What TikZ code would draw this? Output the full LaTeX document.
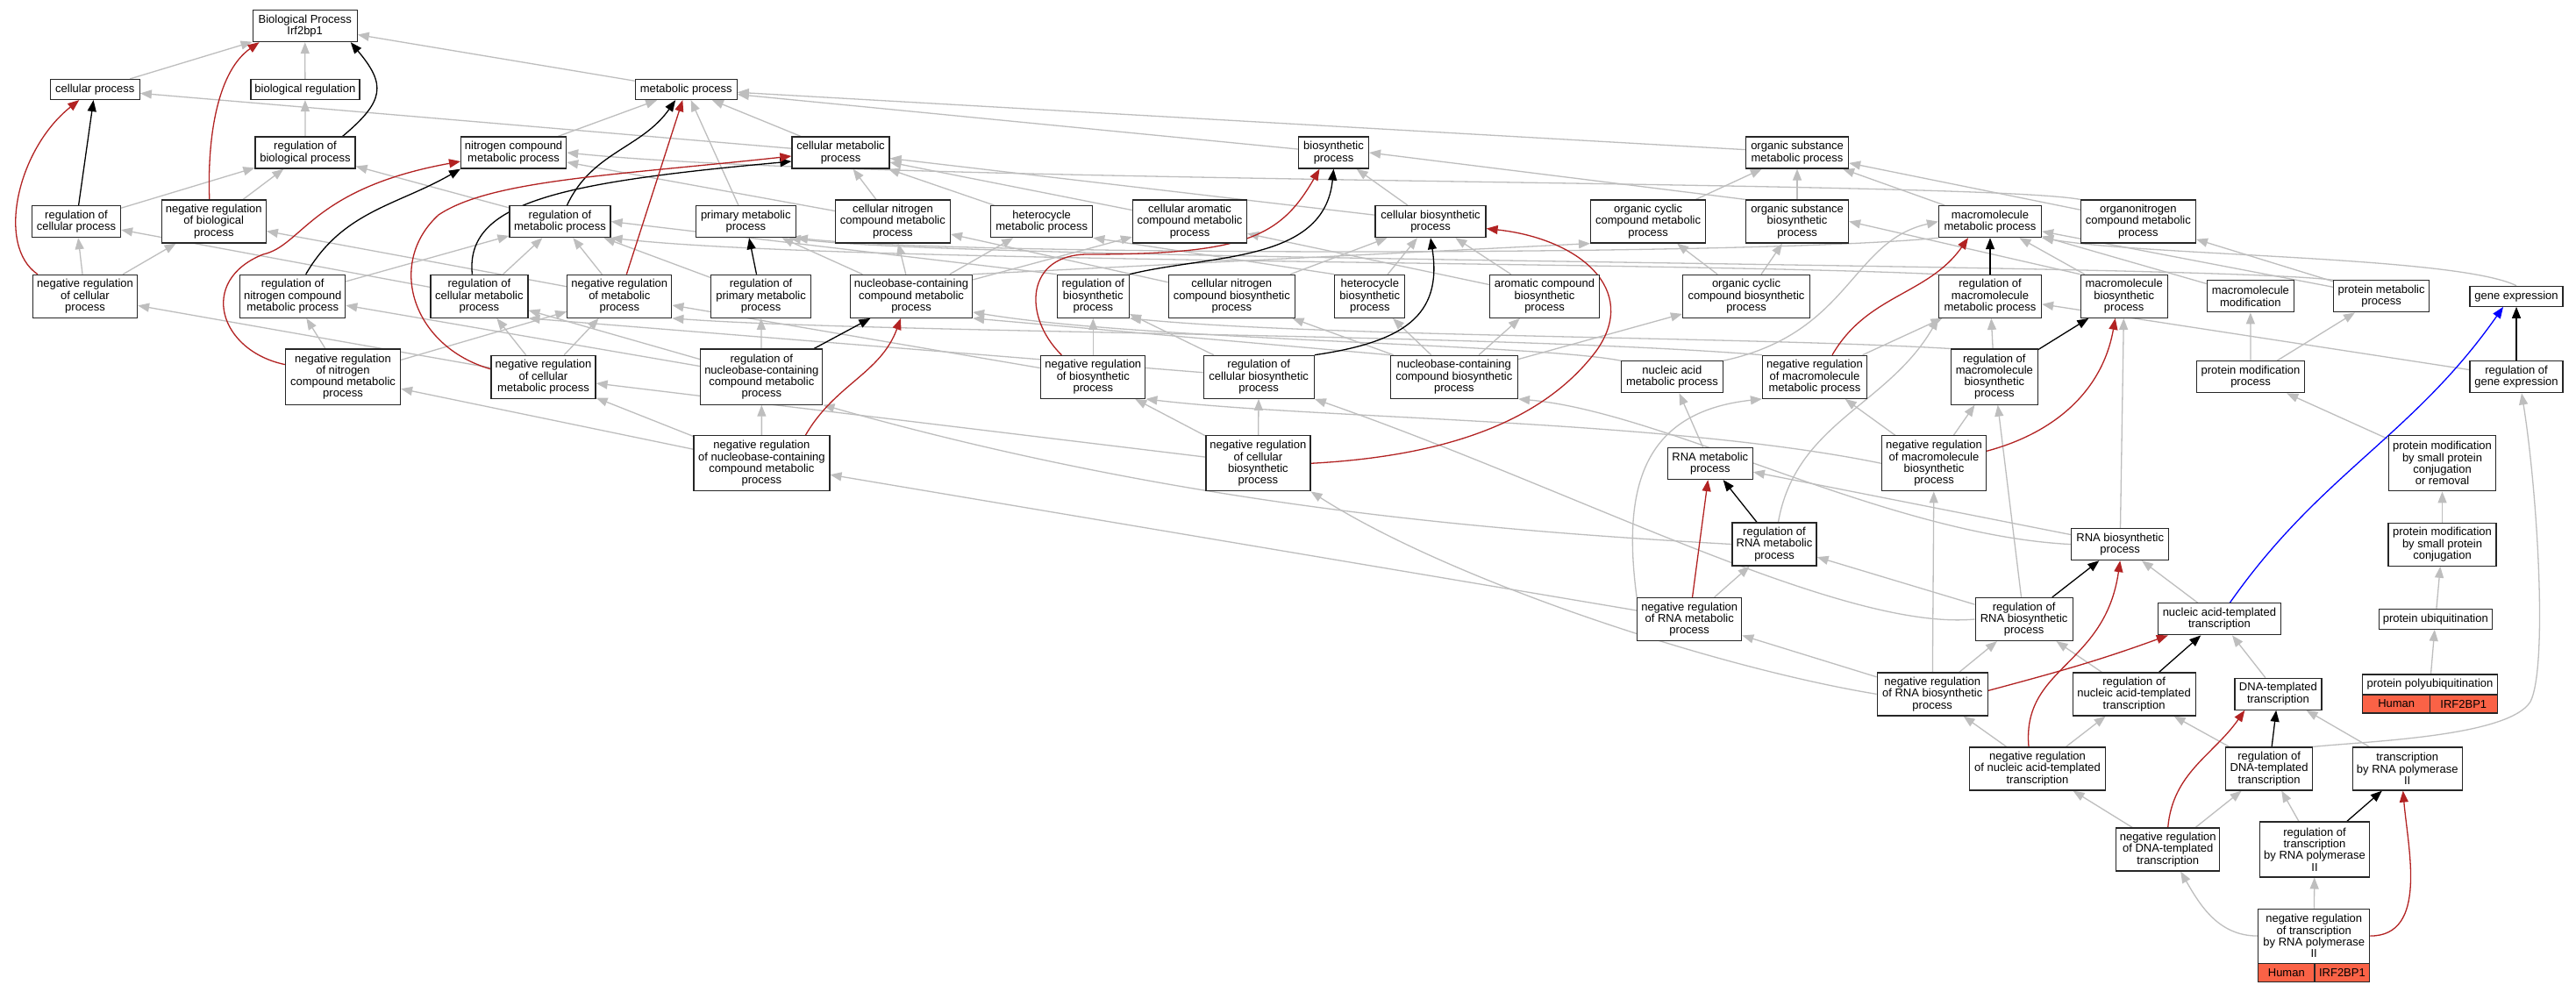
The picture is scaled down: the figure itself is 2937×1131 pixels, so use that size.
\documentclass[tikz,border=0pt]{standalone}
\usepackage{fontspec}
\setmainfont{Liberation Sans}
\usetikzlibrary{arrows.meta,backgrounds}

\definecolor{isagray}{RGB}{190,190,190}
\definecolor{negred}{RGB}{178,34,34}
\definecolor{annot}{RGB}{250,98,70}

\tikzset{
  term/.style={draw=black!85, fill=white, line width=1.2pt, align=center, inner sep=0pt,
    font=\fontsize{13}{13.3}\selectfont},
  hit/.style={term, fill=annot, minimum height=21pt},
  h1/.style={minimum height=23pt},
  h2/.style={minimum height=36pt},
  h3/.style={minimum height=49pt},
  h4/.style={minimum height=63pt},
  isa/.style={draw=isagray, line width=1.3pt, -{Triangle[length=13pt,width=10pt]}},
  reg/.style={isa, draw=black},
  negreg/.style={isa, draw=negred},
  partof/.style={isa, draw=blue},
}

\begin{document}
\begin{tikzpicture}[x=1pt,y=1pt]
\useasboundingbox (0,0) rectangle (2937,-1131);

% top of the graph
\node[term, h2, minimum width=119pt] (bp) at (347.7,-29.6) {Biological Process\\Irf2bp1};
\node[term, h1, minimum width=102pt] (cp) at (108.3,-102) {cellular process};
\node[term, h1, minimum width=124pt] (br) at (347.9,-102) {biological regulation};
\node[term, h1, minimum width=116pt] (mp) at (782.2,-102) {metabolic process};

\node[term, h2, minimum width=114pt] (rbp) at (348,-174) {regulation of\\biological process};
\node[term, h2, minimum width=120pt] (ncmp) at (585.6,-174) {nitrogen compound\\metabolic process};
\node[term, h2, minimum width=111pt] (cmp) at (958.5,-174) {cellular metabolic\\process};
\node[term, h2, minimum width=80pt] (bsp) at (1520.5,-174) {biosynthetic\\process};
\node[term, h2, minimum width=117pt] (osmp) at (2049,-174) {organic substance\\metabolic process};

% third row
\node[term, h2, minimum width=101pt] (rcp) at (87,-252.6) {regulation of\\cellular process};
\node[term, h3, minimum width=119pt] (nrbp) at (243.8,-252.5) {negative regulation\\of biological\\process};
\node[term, h2, minimum width=115pt] (rmp) at (638.5,-252.6) {regulation of\\metabolic process};
\node[term, h2, minimum width=114pt] (pmp) at (850.3,-252.6) {primary metabolic\\process};
\node[term, h3, minimum width=131pt] (cncmp) at (1017.9,-252.5) {cellular nitrogen\\compound metabolic\\process};
\node[term, h2, minimum width=116pt] (hmp) at (1187.7,-252.6) {heterocycle\\metabolic process};
\node[term, h3, minimum width=130pt] (camp) at (1356.5,-252.5) {cellular aromatic\\compound metabolic\\process};
\node[term, h2, minimum width=126pt] (cbp) at (1631,-252.6) {cellular biosynthetic\\process};
\node[term, h3, minimum width=131pt] (occmp) at (1879.1,-252.5) {organic cyclic\\compound metabolic\\process};
\node[term, h3, minimum width=117pt] (osbp) at (2049,-252.5) {organic substance\\biosynthetic\\process};
\node[term, h2, minimum width=117pt] (mmp) at (2269,-252.6) {macromolecule\\metabolic process};
\node[term, h3, minimum width=131pt] (onmp) at (2437.8,-252.5) {organonitrogen\\compound metabolic\\process};

% fourth row
\node[term, h3, minimum width=119pt] (nrcp) at (97,-337.8) {negative regulation\\of cellular\\process};
\node[term, h3, minimum width=120pt] (rncmp) at (333.7,-337.8) {regulation of\\nitrogen compound\\metabolic process};
\node[term, h3, minimum width=111pt] (rcmp) at (546.4,-337.8) {regulation of\\cellular metabolic\\process};
\node[term, h3, minimum width=119pt] (nrmp) at (706.3,-337.8) {negative regulation\\of metabolic\\process};
\node[term, h3, minimum width=114pt] (rpmp) at (867.6,-337.8) {regulation of\\primary metabolic\\process};
\node[term, h3, minimum width=139pt] (nbmp) at (1039,-337.8) {nucleobase-containing\\compound metabolic\\process};
\node[term, h3, minimum width=82pt] (rbsp) at (1246.3,-337.8) {regulation of\\biosynthetic\\process};
\node[term, h3, minimum width=144pt] (cncbp) at (1404.3,-337.8) {cellular nitrogen\\compound biosynthetic\\process};
\node[term, h3, minimum width=80pt] (hbp) at (1561.8,-337.8) {heterocycle\\biosynthetic\\process};
\node[term, h3, minimum width=125pt] (acbp) at (1761,-337.8) {aromatic compound\\biosynthetic\\process};
\node[term, h3, minimum width=145pt] (occbp) at (1991,-337.8) {organic cyclic\\compound biosynthetic\\process};
\node[term, h3, minimum width=117pt] (rmmp) at (2269,-337.8) {regulation of\\macromolecule\\metabolic process};
\node[term, h3, minimum width=99pt] (mbp) at (2421.7,-337.8) {macromolecule\\biosynthetic\\process};
\node[term, h2, minimum width=99pt] (mm) at (2565.8,-337.8) {macromolecule\\modification};
\node[term, h2, minimum width=109pt] (prmp) at (2715.1,-337.8) {protein metabolic\\process};
\node[term, h1, minimum width=106pt] (ge) at (2869,-337.8) {gene expression};

% fifth row
\node[term, h4, minimum width=131pt] (nrncmp) at (391,-429.6) {negative regulation\\of nitrogen\\compound metabolic\\process};
\node[term, h3, minimum width=119pt] (nrcmp) at (619.5,-429.8) {negative regulation\\of cellular\\metabolic process};
\node[term, h4, minimum width=139pt] (rnbmp) at (868.3,-429.6) {regulation of\\nucleobase-containing\\compound metabolic\\process};
\node[term, h3, minimum width=119pt] (nrbsp) at (1246.3,-429.8) {negative regulation\\of biosynthetic\\process};
\node[term, h3, minimum width=126pt] (rcbp) at (1435.2,-429.8) {regulation of\\cellular biosynthetic\\process};
\node[term, h3, minimum width=145pt] (nbbp) at (1657.9,-429.8) {nucleobase-containing\\compound biosynthetic\\process};
\node[term, h2, minimum width=116pt] (namp) at (1906.4,-429.8) {nucleic acid\\metabolic process};
\node[term, h3, minimum width=119pt] (nrmmp) at (2069,-429.8) {negative regulation\\of macromolecule\\metabolic process};
\node[term, h4, minimum width=99pt] (rmbp) at (2273.8,-429.6) {regulation of\\macromolecule\\biosynthetic\\process};
\node[term, h2, minimum width=123pt] (pmod) at (2566,-429.8) {protein modification\\process};
\node[term, h2, minimum width=106pt] (rge) at (2869,-429.8) {regulation of\\gene expression};

% sixth row
\node[term, h4, minimum width=155pt] (nrnbmp) at (868.4,-528.3) {negative regulation\\of nucleobase-containing\\compound metabolic\\process};
\node[term, h4, minimum width=119pt] (nrcbp) at (1434.4,-528.3) {negative regulation\\of cellular\\biosynthetic\\process};
\node[term, h2, minimum width=97pt] (rnamp) at (1949.8,-528.5) {RNA metabolic\\process};
\node[term, h4, minimum width=119pt] (nrmbp) at (2205,-528.3) {negative regulation\\of macromolecule\\biosynthetic\\process};
\node[term, h4, minimum width=122pt] (pmsp) at (2784.5,-528.3) {protein modification\\by small protein\\conjugation\\or removal};

% transcription part
\node[term, h3, minimum width=96pt] (rrnamp) at (2023,-620.5) {regulation of\\RNA metabolic\\process};
\node[term, h2, minimum width=111pt] (rnabp) at (2417.2,-620.6) {RNA biosynthetic\\process};
\node[term, h3, minimum width=123pt] (psmc) at (2784.5,-620.7) {protein modification\\by small protein\\conjugation};
\node[term, h3, minimum width=119pt] (nrrnamp) at (1926.2,-706) {negative regulation\\of RNA metabolic\\process};
\node[term, h3, minimum width=111pt] (rrnabp) at (2307.6,-706) {regulation of\\RNA biosynthetic\\process};
\node[term, h2, minimum width=140pt] (nat) at (2530.4,-705.8) {nucleic acid-templated\\transcription};
\node[term, h1, minimum width=129pt] (pubi) at (2776.8,-705.8) {protein ubiquitination};
\node[term, h3, minimum width=126pt] (nrrnabp) at (2203.2,-791.4) {negative regulation\\of RNA biosynthetic\\process};
\node[term, h3, minimum width=140pt] (rnat) at (2433.1,-791.4) {regulation of\\nucleic acid-templated\\transcription};
\node[term, h2, minimum width=99pt] (dt) at (2597.4,-791.2) {DNA-templated\\transcription};
\node[term, h1, minimum width=153.3pt] (ppu) at (2770.5,-780.4) {protein polyubiquitination};
\node[hit, minimum width=76.7pt] (ppuh) at (2732.2,-802.5) {Human};
\node[hit, minimum width=76.6pt] (ppug) at (2808.8,-802.5) {IRF2BP1};
\node[term, h3, minimum width=155pt] (nrnat) at (2323,-876.5) {negative regulation\\of nucleic acid-templated\\transcription};
\node[term, h3, minimum width=99pt] (rdt) at (2587.1,-876.5) {regulation of\\DNA-templated\\transcription};
\node[term, h3, minimum width=125pt] (trp2) at (2744.7,-876.5) {transcription\\by RNA polymerase\\II};
\node[term, h3, minimum width=118pt] (nrdt) at (2471.7,-968.5) {negative regulation\\of DNA-templated\\transcription};
\node[term, h4, minimum width=125pt] (rtp2) at (2639,-968.4) {regulation of\\transcription\\by RNA polymerase\\II};
\node[term, minimum height=62pt, minimum width=127pt] (nrtp2) at (2638.2,-1067.1) {negative regulation\\of transcription\\by RNA polymerase\\II};
\node[hit, minimum width=64.4pt] (nrtp2h) at (2606.8,-1109) {Human};
\node[hit, minimum width=62.7pt] (nrtp2g) at (2670.4,-1109) {IRF2BP1};

\begin{pgfonlayer}{background}
\fill[white] (0,0) rectangle (2937,-1131);

% is_a
\draw[isa] (cp) -- (bp);
\draw[isa] (br) -- (bp);
\draw[isa] (mp) -- (bp);
\draw[isa] (rbp) -- (br);
\draw[isa] (rcp) -- (rbp);
\draw[isa] (nrbp) -- (rbp);
\draw[isa] (nrcp) -- (rcp);
\draw[isa] (nrcp) -- (nrbp);
\draw[isa] (cmp) -- (cp);
\draw[isa] (cmp) -- (mp);
\draw[isa] (ncmp) -- (mp);
\draw[isa] (pmp) -- (mp);
\draw[isa] (osmp) -- (mp);
\draw[isa] (bsp) -- (mp);
\draw[isa] (rmp) -- (rbp);
\draw[isa] (nrmp) -- (rmp);
\draw[isa] (nrmp) -- (nrbp);
\draw[isa] (rncmp) -- (rmp);
\draw[isa] (rcmp) -- (rmp);
\draw[isa] (rcmp) -- (rcp);
\draw[isa] (rpmp) -- (rmp);
\draw[isa] (nrncmp) -- (rncmp);
\draw[isa] (nrncmp) -- (nrmp);
\draw[isa] (nrcmp) -- (rcmp);
\draw[isa] (nrcmp) -- (nrmp);
\draw[isa] (nrcmp) -- (nrcp);
\draw[isa] (cncmp) -- (ncmp);
\draw[isa] (cncmp) -- (cmp);
\draw[isa] (onmp.north west) .. controls (2250,-205) and (1000,-210) .. (ncmp.east);
\draw[isa] (onmp) -- (osmp);
\draw[isa] (hmp) -- (cmp);
\draw[isa] (camp) -- (cmp);
\draw[isa] (cbp) -- (cmp);
\draw[isa] (cbp) -- (bsp);
\draw[isa] (occmp) -- (osmp);
\draw[isa] (osbp) -- (osmp);
\draw[isa] (osbp.north west) -- (bsp.east);
\draw[isa] (mmp) -- (osmp);
\draw[isa] (mmp.south west) .. controls (2000,-292) and (1100,-292) .. (pmp.south east);
\draw[isa] (prmp.north west) .. controls (2500,-300) and (1100,-298) .. ([xshift=-8]pmp.south east);
\draw[isa] (prmp) -- (mmp);
\draw[isa] (prmp) -- (onmp);
\draw[isa] (mm) -- (mmp);
\draw[isa] (mbp) -- (mmp);
\draw[isa] (mbp.north west) -- (osbp.east);
\draw[isa] (ge.north) .. controls (2800,-292) and (2450,-292) .. (mmp.south east);
\draw[isa] (pmod) -- (mm);
\draw[isa] (pmod) -- (prmp);
\draw[isa] (pmsp) -- (pmod);
\draw[isa] (psmc) -- (pmsp);
\draw[isa] (pubi) -- (psmc);
\draw[isa] (ppu) -- (pubi);
\draw[isa] (rge) -- (rmmp);
\draw[isa] (rmmp.north west) .. controls (1900,-298) and (950,-300) .. (rmp.south east);
\draw[isa] (nrmmp) -- (rmmp);
\draw[isa] (nrmmp.north west) .. controls (1700,-380) and (1000,-380) .. (nrmp.south east);
\draw[isa] (rmbp) -- (rmmp);
\draw[isa] (rmbp.north west) .. controls (2000,-384) and (1500,-384) .. (rbsp.south east);
\draw[isa] (nrmbp) -- (rmbp);
\draw[isa] (nrmbp) -- (nrmmp);
\draw[isa] (nrmbp.west) .. controls (1900,-478) and (1500,-478) .. (nrbsp.south east);
\draw[isa] (rbsp.north west) -- (rmp.east);
\draw[isa] (nrbsp) -- (rbsp);
\draw[isa] (nrbsp) -- (nrmp);
\draw[isa] (rcbp) -- (rbsp);
\draw[isa] (rcbp) -- (rcmp.south east);
\draw[isa] (nrcbp) -- (rcbp);
\draw[isa] (nrcbp) -- (nrbsp);
\draw[isa] (nrcbp) -- (nrcmp);
\draw[isa] (cncbp) -- (cbp);
\draw[isa] (cncbp) -- (cncmp);
\draw[isa] (hbp) -- (cbp);
\draw[isa] (hbp.north west) -- (hmp.south east);
\draw[isa] (acbp) -- (cbp);
\draw[isa] (acbp) -- (camp);
\draw[isa] (occbp) -- (occmp);
\draw[isa] (occbp) -- (osbp);
\draw[isa] (nbmp) -- (cncmp);
\draw[isa] (nbmp) -- (hmp);
\draw[isa] (nbmp) -- (camp);
\draw[isa] (nbmp.north east) -- (occmp.south west);
\draw[isa] (nbmp) -- (pmp);
\draw[isa] (nbbp.north west) -- (nbmp.south east);
\draw[isa] (nbbp) -- (cncbp);
\draw[isa] (nbbp) -- (hbp);
\draw[isa] (nbbp) -- (acbp);
\draw[isa] (nbbp) -- (occbp);
\draw[isa] (namp.north east) .. controls (2110,-380) and (2110,-275) .. (mmp.west);
\draw[isa] (namp.north west) .. controls (1750,-392) and (1300,-388) .. ([yshift=7]nbmp.south east);
\draw[isa] (rnamp) -- (namp);
\draw[isa] (rnbmp) -- (rpmp);
\draw[isa] (rnbmp) -- (rcmp);
\draw[isa] (rnbmp) -- (rncmp);
\draw[isa] (nrnbmp) -- (rnbmp);
\draw[isa] (nrnbmp) -- (nrcmp);
\draw[isa] (nrnbmp) -- (nrncmp);
\draw[isa] (rrnamp) to[out=80,in=240] (rmmp.south west);
\draw[isa] (rrnamp.west) .. controls (1700,-605) and (1350,-578) .. (rnbmp.south east);
\draw[isa] (nrrnamp) -- (rrnamp);
\draw[isa] (nrrnamp.north west) .. controls (1850,-560) and (1870,-470) .. (nrmmp.south west);
\draw[isa] (nrrnamp) -- (nrnbmp);
\draw[isa] (rnabp) -- (rnamp);
\draw[isa] (rnabp.west) .. controls (2150,-610) and (1900,-470) .. (nbbp.south east);
\draw[isa] (rnabp) -- (mbp);
\draw[isa] (rrnabp) -- (rrnamp);
\draw[isa] (rrnabp) -- (rmbp);
\draw[isa] (rrnabp.west) .. controls (2100,-720) and (1800,-560) .. (rcbp.south east);
\draw[isa] (nat) -- (rnabp);
\draw[isa] (nrrnabp) -- (rrnabp);
\draw[isa] (nrrnabp) -- (nrrnamp);
\draw[isa] (nrrnabp) -- (nrmbp);
\draw[isa] (nrrnabp.west) .. controls (1950,-760) and (1650,-660) .. (nrcbp.south east);
\draw[isa] (rnat) -- (rrnabp);
\draw[isa] (dt) -- (nat);
\draw[isa] (nrnat) -- (nrrnabp);
\draw[isa] (nrnat) -- (rnat);
\draw[isa] (rdt) -- (rnat);
\draw[isa] (rdt.north east) .. controls (2700,-845) and (2860,-840) .. (2885,-800)
  .. controls (2905,-760) and (2893,-560) .. ([xshift=6]rge.south);
\draw[isa] (trp2) -- (dt);
\draw[isa] (nrdt) -- (nrnat);
\draw[isa] (nrdt) -- (rdt);
\draw[isa] (rtp2) -- (rdt);
\draw[isa] (nrtp2.west) to[out=180,in=-60] (nrdt);
\draw[isa] (nrtp2) -- (rtp2);

% regulates
\draw[reg] ([xshift=-15]rbp.north east) to[out=40,in=-50,looseness=1.5] ([xshift=-8]bp.south east);
\draw[reg] (rcp) -- (cp);
\draw[reg] ([xshift=8]rmp.north) to[out=65,in=235] ([xshift=-12]mp.south);
\draw[reg] ([xshift=15]rncmp.north) to[out=60,in=210] (ncmp.south west);
\draw[reg] ([xshift=-8]rcmp.north) .. controls (530,-230) and (640,-208) .. ([yshift=-10]cmp.west);
\draw[reg] (rpmp) -- (pmp);
\draw[reg] (rbsp.north east) .. controls (1380,-290) and (1510,-300) .. (bsp.south);
\draw[reg] (rcbp.north east) .. controls (1600,-390) and (1645,-360) .. (cbp.south);
\draw[reg] (rnbmp) -- (nbmp);
\draw[reg] (rmmp) -- (mmp);
\draw[reg] (rmbp) -- (mbp);
\draw[reg] (rge) -- (ge);
\draw[reg] (rrnamp) -- (rnamp);
\draw[reg] (rrnabp) -- (rnabp);
\draw[reg] (rnat) -- (nat);
\draw[reg] (rdt) -- (dt);
\draw[reg] (rtp2) -- (trp2);

% negatively regulates
\draw[negreg] ([xshift=-5]nrbp.north) .. controls (236,-150) and (250,-80) .. ([xshift=8]bp.south west);
\draw[negreg] ([xshift=6]nrcp.north west) .. controls (-5,-280) and (20,-170) .. ([xshift=-18]cp.south);
\draw[negreg] (nrmp) -- (mp);
\draw[negreg] ([yshift=14]nrncmp.west) .. controls (250,-400) and (225,-320) .. (300,-290)
  .. controls (345,-280) and (355,-215) .. ([yshift=-10]ncmp.west);
\draw[negreg] ([yshift=9]nrcmp.west) .. controls (470,-395) and (440,-300) .. (500,-245)
  .. controls (560,-205) and (700,-200) .. ([yshift=-4]cmp.west);
\draw[negreg] ([xshift=50]nrnbmp.north) to[out=60,in=-110] ([xshift=-12]nbmp.south);
\draw[negreg] ([xshift=-36]nrbsp.north) .. controls (1165,-360) and (1170,-290) .. (1240,-290)
  .. controls (1420,-290) and (1460,-270) .. ([xshift=-16]bsp.south);
\draw[negreg] (nrcbp.east) .. controls (1650,-520) and (1760,-480) .. (1820,-400)
  .. controls (1870,-330) and (1800,-272) .. ([yshift=-8]cbp.east);
\draw[negreg] ([xshift=20]nrmmp.north) to[out=60,in=235] ([xshift=-25]mmp.south);
\draw[negreg] ([yshift=14]nrmbp.east) to[out=15,in=-100] ([xshift=-10]mbp.south);
\draw[negreg] (nrrnamp) -- (rnamp);
\draw[negreg] ([xshift=-10]nrnat.north) .. controls (2305,-760) and (2400,-760) .. (rnabp.south);
\draw[negreg] ([yshift=4]nrrnabp.east) to[out=15,in=200] ([xshift=12]nat.south west);
\draw[negreg] (nrdt.north) to[out=85,in=-125] ([xshift=12]dt.south west);
\draw[negreg] (nrtp2.east) to[out=0,in=-85] ([xshift=-5]trp2.south);

% part of
\draw[partof] ([xshift=12]nat.north) to[out=55,in=235] ([xshift=-15]ge.south);
\end{pgfonlayer}
\end{tikzpicture}
\end{document}
